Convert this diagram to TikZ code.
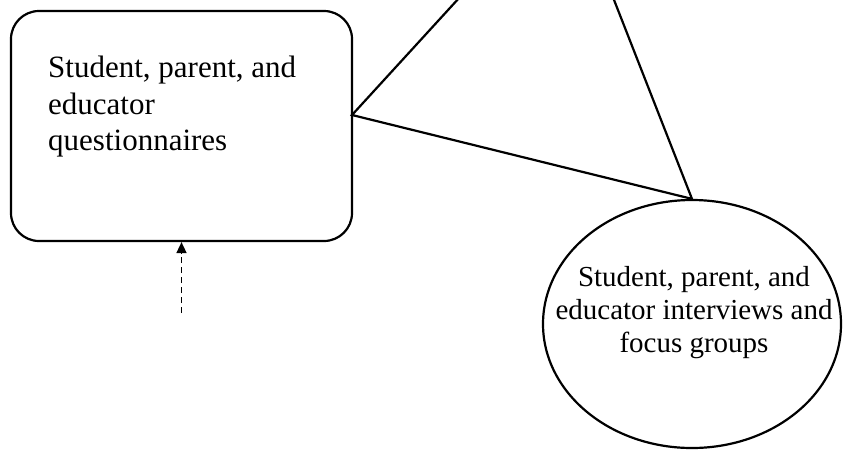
\documentclass[tikz,border=0pt]{standalone}
\usepackage{fontspec}
\setmainfont{Liberation Serif}
\usetikzlibrary{shapes.geometric,arrows.meta}
\tikzset{
  boxshape/.style={draw, line width=2.2pt, rounded corners=28pt, minimum width=341pt, minimum height=230pt, inner sep=0pt},
  ellshape/.style={draw, ellipse, line width=2.2pt, minimum width=298pt, minimum height=248pt, inner sep=0pt},
  boxtxt/.style={inner sep=0pt, align=left, font=\fontsize{31}{36.5}\selectfont},
  elltxt/.style={inner sep=0pt, align=center, font=\fontsize{29}{33}\selectfont},
  edge/.style={line width=2.2pt},
  dasharrow/.style={line width=1.6pt, dash pattern=on 6pt off 4pt, -{Triangle[length=11pt,width=10pt]}}
}
\begin{document}
\begin{tikzpicture}[x=1pt,y=-1pt]
\useasboundingbox (0,0) rectangle (843,450);
\clip (0,0) rectangle (843,450);
\node[boxshape] (box) at (181.5,126) {};
\node[boxtxt, anchor=north west] (boxtext) at (48,56) {Student, parent, and\\educator\\questionnaires};
\node[ellshape] (ell) at (692,324) {};
\node[elltxt] (elltext) at (694,313) {Student, parent, and\\educator interviews and\\focus groups};
\coordinate (apex) at (567,-120);
\coordinate (left) at (352,115);
\draw[edge] (left) -- (apex) -- (ell.north) -- cycle;
\coordinate (dstart) at (181.5,313);
\draw[dasharrow] (dstart) -- (box.south);
\end{tikzpicture}
\end{document}
